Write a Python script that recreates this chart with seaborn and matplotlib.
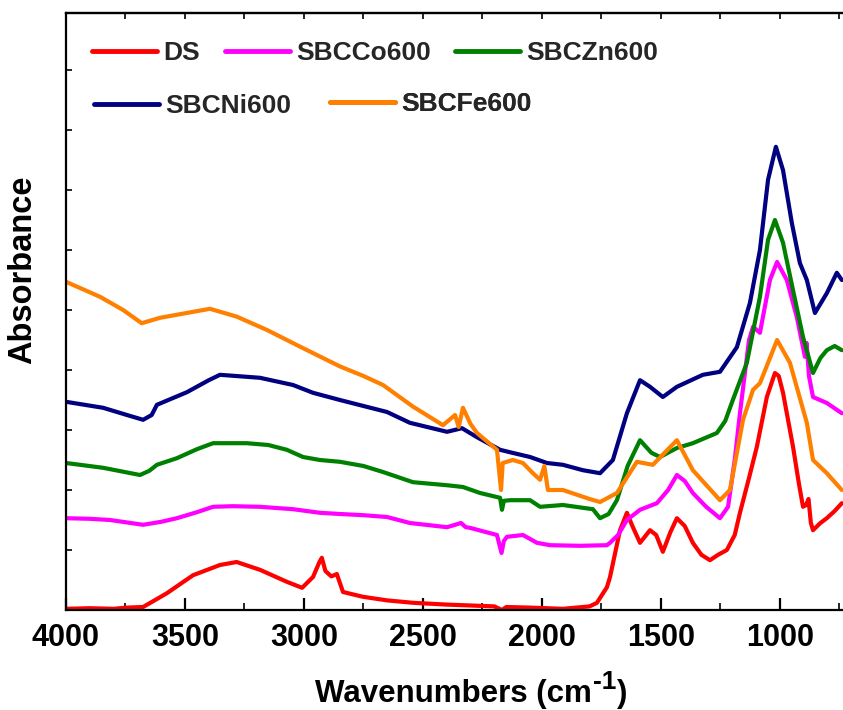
import numpy as np
import pandas as pd
import matplotlib
matplotlib.use("Agg")
import matplotlib.pyplot as plt
from matplotlib.lines import Line2D
from matplotlib.ticker import MultipleLocator, NullFormatter
import seaborn as sns

# ---------------- data ----------------
labels = ["DS", "SBCCo600", "SBCZn600", "SBCNi600", "SBCFe600"]
colors = ["#FF0000", "#FF00FF", "#008000", "#000080", "#FF8000"]

wn_ds = [4000, 3900, 3800, 3744, 3676, 3576, 3466, 3353, 3283, 3185, 3072, 3008, 2962, 2935, 2925,
         2910, 2885, 2862, 2836, 2752, 2650, 2542, 2400, 2332, 2200, 2168, 2150, 2050, 1912, 1800,
         1769, 1727, 1714, 1672, 1643, 1620, 1588, 1546, 1520, 1492, 1460, 1433, 1400, 1366, 1330,
         1294, 1260, 1223, 1190, 1168, 1130, 1097, 1055, 1021, 1005, 987, 945, 920, 903, 890, 880,
         870, 861, 830, 803, 770, 740]
ab_ds = [0.02, 0.03, 0.02, 0.04, 0.05, 0.28, 0.58, 0.75, 0.80, 0.67, 0.47, 0.37, 0.55, 0.80, 0.87,
         0.65, 0.56, 0.60, 0.30, 0.22, 0.16, 0.12, 0.09, 0.08, 0.06, 0.00, 0.05, 0.04, 0.02, 0.06,
         0.12, 0.38, 0.55, 1.33, 1.62, 1.40, 1.12, 1.33, 1.25, 0.97, 1.30, 1.53, 1.40, 1.12, 0.92,
         0.83, 0.92, 1.00, 1.25, 1.62, 2.20, 2.72, 3.55, 3.95, 3.90, 3.62, 2.72, 2.10, 1.72, 1.75, 1.85,
         1.45, 1.33, 1.45, 1.53, 1.65, 1.78]

wn_co = [4000, 3900, 3815, 3676, 3600, 3534, 3450, 3382, 3300, 3185, 3046, 2933, 2849, 2750, 2651,
         2555, 2399, 2340, 2320, 2303, 2189, 2170, 2160, 2147, 2080, 2021, 1966, 1840, 1727, 1714,
         1680, 1643, 1588, 1517, 1470, 1433, 1400, 1366, 1310, 1252, 1218, 1190, 1168, 1130, 1113,
         1084, 1042, 1012, 971, 929, 895, 888, 878, 861, 803, 740]
ab_co = [1.53, 1.52, 1.50, 1.42, 1.47, 1.53, 1.63, 1.72, 1.73, 1.72, 1.68, 1.62, 1.60, 1.58, 1.55,
         1.45, 1.38, 1.45, 1.38, 1.37, 1.25, 0.95, 1.15, 1.22, 1.25, 1.12, 1.08, 1.07, 1.08, 1.12,
         1.25, 1.50, 1.67, 1.78, 2.00, 2.25, 2.15, 1.95, 1.72, 1.53, 1.72, 2.50, 3.28, 4.50, 4.72,
         4.62, 5.50, 5.80, 5.50, 4.88, 4.22, 4.45, 3.90, 3.55, 3.45, 3.28]

wn_zn = [4000, 3844, 3689, 3650, 3618, 3534, 3450, 3382, 3240, 3150, 3072, 3004, 2933, 2849, 2750,
         2668, 2542, 2400, 2332, 2260, 2176, 2168, 2160, 2135, 2050, 2008, 1912, 1786, 1756, 1720,
         1685, 1640, 1588, 1540, 1504, 1433, 1366, 1265, 1230, 1198, 1139, 1084, 1050, 1021, 987,
         945, 903, 861, 830, 803, 770, 740]
ab_zn = [2.45, 2.37, 2.25, 2.32, 2.42, 2.53, 2.68, 2.78, 2.78, 2.75, 2.67, 2.55, 2.50, 2.47, 2.40,
         2.30, 2.13, 2.08, 2.05, 1.95, 1.87, 1.67, 1.82, 1.83, 1.83, 1.72, 1.75, 1.68, 1.53, 1.60,
         1.83, 2.40, 2.83, 2.62, 2.55, 2.70, 2.78, 2.95, 3.15, 3.50, 4.12, 5.22, 6.17, 6.50, 6.12,
         5.33, 4.55, 3.95, 4.20, 4.33, 4.40, 4.33]

wn_ni = [4000, 3844, 3744, 3676, 3640, 3618, 3492, 3400, 3353, 3185, 3046, 2962, 2849, 2750, 2651,
         2555, 2399, 2336, 2273, 2176, 2135, 2050, 1979, 1912, 1828, 1756, 1702, 1643, 1588, 1546,
         1492, 1433, 1324, 1252, 1181, 1126, 1084, 1050, 1017, 987, 950, 916, 887, 853, 803, 761, 740]
ab_ni = [3.47, 3.37, 3.25, 3.17, 3.25, 3.42, 3.63, 3.83, 3.92, 3.87, 3.75, 3.62, 3.50, 3.40, 3.30,
         3.12, 2.97, 3.03, 2.88, 2.67, 2.63, 2.55, 2.45, 2.42, 2.33, 2.28, 2.50, 3.28, 3.83, 3.72,
         3.55, 3.72, 3.92, 3.97, 4.38, 5.12, 6.00, 7.17, 7.72, 7.33, 6.45, 5.78, 5.50, 4.95, 5.28, 5.62, 5.50]

wn_fe = [4000, 3857, 3760, 3682, 3605, 3493, 3395, 3283, 3157, 3017, 2849, 2750, 2668, 2542, 2416,
         2365, 2350, 2332, 2300, 2273, 2189, 2172, 2165, 2122, 2080, 2038, 2008, 1990, 1975, 1912,
         1800, 1756, 1685, 1601, 1534, 1433, 1366, 1252, 1210, 1155, 1113, 1084, 1012, 958, 887,
         861, 803, 740]
ab_fe = [5.47, 5.22, 5.00, 4.78, 4.87, 4.95, 5.02, 4.89, 4.67, 4.39, 4.06, 3.90, 3.75, 3.39, 3.08,
         3.25, 3.05, 3.37, 3.10, 2.95, 2.67, 2.00, 2.45, 2.50, 2.45, 2.28, 2.17, 2.40, 2.00, 2.00,
         1.85, 1.80, 1.95, 2.47, 2.42, 2.83, 2.33, 1.83, 2.00, 3.17, 3.67, 3.78, 4.50, 4.12, 3.12,
         2.50, 2.28, 2.00]

xticks = [4000, 3500, 3000, 2500, 2000, 1500, 1000]

series_wn = [wn_ds, wn_co, wn_zn, wn_ni, wn_fe]
series_ab = [ab_ds, ab_co, ab_zn, ab_ni, ab_fe]

# ---------------- style ----------------
sns.set_theme(style="white")
plt.rcParams["font.family"] = ["Liberation Sans", "DejaVu Sans"]
plt.rcParams["font.weight"] = "bold"

fig = plt.figure(figsize=(8.43, 7.10), dpi=100)
ax = fig.add_axes([66 / 843, 100 / 710, 1 - 66 / 843, 597 / 710])

for lab, col, wn, ab in zip(labels, colors, series_wn, series_ab):
    df = pd.DataFrame({"wn": wn, "ab": ab})
    sns.lineplot(data=df, x="wn", y="ab", ax=ax, color=col, lw=3.0,
                 sort=False, legend=False, estimator=None)

ax.set_xlim(4000, 735)
ax.set_ylim(0, 9.95)

for s in ["left", "bottom", "top"]:
    ax.spines[s].set_visible(True)
    ax.spines[s].set_color("black")
    ax.spines[s].set_linewidth(1.6)
ax.spines["right"].set_visible(False)

ax.set_xticks(xticks)
ax.set_xticklabels([str(t) for t in xticks])
ax.xaxis.set_minor_locator(MultipleLocator(250))
ax.tick_params(axis="x", which="major", direction="in", length=9, width=1.6,
               labelsize=22, pad=9, colors="black", bottom=True, top=False)
ax.tick_params(axis="x", which="minor", direction="in", length=5, width=1.4,
               bottom=True, top=False)
for lbl in ax.get_xticklabels():
    lbl.set_fontweight("bold")

ax.yaxis.set_major_locator(MultipleLocator(1))
ax.yaxis.set_major_formatter(NullFormatter())
ax.tick_params(axis="y", which="major", direction="in", length=4, width=1.4, left=True)

sec = ax.secondary_xaxis("top")
sec.set_xticks(list(range(4000, 700, -250)))
sec.xaxis.set_major_formatter(NullFormatter())
sec.tick_params(axis="x", direction="in", length=4, width=1.4)
sec.spines["top"].set_linewidth(1.6)

# x label: main text plus a raised "-1" superscript
ax.set_xlabel("")
lab_y = 1 - 694 / 710
t1 = fig.text(315 / 843, lab_y, "Wavenumbers (cm", fontsize=22.5, fontweight="bold",
              color="black", ha="left", va="center")
fig.canvas.draw()
bb = t1.get_window_extent()
x_sup = bb.x1 / fig.bbox.width
t2 = fig.text(x_sup + 0.001, lab_y + 0.017, "-1", fontsize=19, fontweight="bold",
              color="black", ha="left", va="center")
fig.canvas.draw()
bb2 = t2.get_window_extent()
fig.text(bb2.x1 / fig.bbox.width + 0.001, lab_y, ")", fontsize=22.5, fontweight="bold",
         color="black", ha="left", va="center")

ax.set_ylabel("Absorbance", fontsize=23.5, fontweight="bold", color="black")
ax.yaxis.set_label_coords(-(66 - 38) / 777, (610 - 270) / 597)

# ---------------- legend (five separate entries) ----------------
leg_pos = [(92, 53), (225, 53), (455, 53), (94, 106), (330, 104)]
for lab, col, (px, py) in zip(labels, colors, leg_pos):
    h = Line2D([], [], color=col, lw=3.5)
    lg = ax.legend(handles=[h], labels=[lab], loc="center left",
                   bbox_to_anchor=(px / 843, 1 - py / 710), bbox_transform=fig.transFigure,
                   frameon=False, borderpad=0, borderaxespad=0, handlelength=2.45,
                   handletextpad=0.25, prop={"family": "Liberation Sans", "weight": "bold", "size": 19})
    ax.add_artist(lg)

fig.savefig("out.png", dpi=100)
